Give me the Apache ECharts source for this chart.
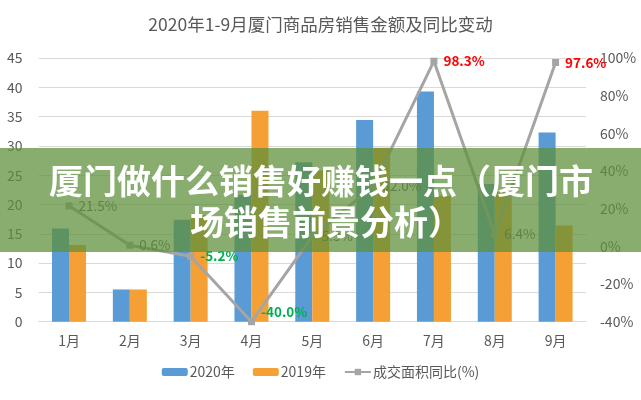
<!DOCTYPE html>
<html><head><meta charset="utf-8">
<script src="https://cdn.jsdelivr.net/npm/echarts@6/dist/echarts.min.js"></script>
<style>html,body{margin:0;padding:0;background:#fff}#c{width:641px;height:400px}</style>
</head><body><div id="c"></div>
<script>
// ---- data ----
const months = ['1月','2月','3月','4月','5月','6月','7月','8月','9月'];
const sales2020 = [15.9, 5.5, 17.4, 21.6, 27.2, 34.4, 39.3, 23.5, 32.3];
const sales2019 = [13.1, 5.5, 18.2, 36.0, 25.8, 29.7, 21.5, 22.1, 16.4];
const areaYoY = [21.5, 0.6, -5.2, -40.0, 5.3, 32.0, 98.3, 6.4, 97.6];
const leftTicks = [0, 5, 10, 15, 20, 25, 30, 35, 40, 45];
const rightTicks = [-40, -20, 0, 20, 40, 60, 80, 100];
const seriesNames = ['2020年', '2019年', '成交面积同比(%)'];
const titleText = '2020年1-9月厦门商品房销售金额及同比变动';
const bannerLines = ['厦门做什么销售好赚钱一点（厦门市', '场销售前景分析）'];

// ---- chart ----
const FONT = '"Noto Sans CJK SC", "Noto Sans", sans-serif';
const GRAY = '#595959';
const chart = echarts.init(document.getElementById('c'), null, {renderer: 'canvas'});

function labelStyleFor(v) {
  if (v < 0) return {color: '#00B050', fontWeight: 'bold'};
  if (v > 90) return {color: '#FF0000', fontWeight: 'bold'};
  return {color: GRAY, fontWeight: 'normal'};
}

const lineData = areaYoY.map(function (v) {
  const s = labelStyleFor(v);
  const lbl = {show: true, position: 'right', distance: 6, color: s.color, fontWeight: s.fontWeight,
    fontSize: 13.5, fontFamily: FONT, formatter: function (p) { return p.value.toFixed(1) + '%'; }};
  if (v === Math.min.apply(null, areaYoY)) lbl.offset = [0, -10];
  return {value: v, label: lbl};
});

const option = {
  animation: false,
  backgroundColor: '#fff',
  textStyle: {fontFamily: FONT},
  title: {
    text: titleText, left: 'center', top: 11,
    textStyle: {color: GRAY, fontSize: 17.5, fontWeight: 'normal', fontFamily: FONT}
  },
  legend: {
    bottom: 16, left: 'center', itemWidth: 26, itemHeight: 8, itemGap: 18,
    textStyle: {color: GRAY, fontSize: 14, fontFamily: FONT, padding: [0, 0, 0, -3]},
    data: seriesNames
  },
  grid: {left: 38.6, right: 55, top: 58, bottom: 78.3, containLabel: false},
  xAxis: {
    type: 'category', data: months,
    axisLine: {lineStyle: {color: '#D9D9D9'}}, axisTick: {show: false},
    axisLabel: {color: GRAY, fontSize: 14, margin: 12, fontFamily: FONT}
  },
  yAxis: [{
    type: 'value', min: leftTicks[0], max: leftTicks[leftTicks.length - 1], interval: leftTicks[1] - leftTicks[0],
    axisLine: {show: false}, axisTick: {show: false},
    splitLine: {lineStyle: {color: '#D9D9D9'}},
    axisLabel: {color: GRAY, fontSize: 14, margin: 16, fontFamily: FONT}
  }, {
    type: 'value', min: rightTicks[0], max: rightTicks[rightTicks.length - 1], interval: rightTicks[1] - rightTicks[0],
    axisLine: {show: false}, axisTick: {show: false}, splitLine: {show: false},
    axisLabel: {color: GRAY, fontSize: 14, margin: 14, fontFamily: FONT, formatter: '{value}%'}
  }],
  series: [{
    name: seriesNames[0], type: 'bar', data: sales2020, barWidth: 17, barGap: '0%',
    itemStyle: {color: '#5B9BD5'}
  }, {
    name: seriesNames[1], type: 'bar', data: sales2019, barWidth: 17, barGap: '0%',
    itemStyle: {color: '#F4A034'}
  }, {
    name: seriesNames[2], type: 'line', yAxisIndex: 1, data: lineData,
    symbol: 'rect', symbolSize: 7, showAllSymbol: true,
    lineStyle: {color: '#A5A5A5', width: 3}, itemStyle: {color: '#A5A5A5'}
  }],
  graphic: [{
    type: 'rect', left: 0, top: 148, z: 100,
    shape: {width: 641, height: 104},
    style: {fill: 'rgba(95,145,60,0.74)'}
  }, {
    type: 'text', z: 101, x: 321, y: 181,
    style: {text: bannerLines[0], fill: '#fff', fontSize: 34, fontWeight: 'bold', fontFamily: FONT,
      textAlign: 'center', textVerticalAlign: 'middle',
      shadowBlur: 4, shadowColor: 'rgba(0,0,0,0.45)', shadowOffsetX: 1, shadowOffsetY: 1}
  }, {
    type: 'text', z: 101, x: 326, y: 222,
    style: {text: bannerLines[1], fill: '#fff', fontSize: 34, fontWeight: 'bold', fontFamily: FONT,
      textAlign: 'center', textVerticalAlign: 'middle',
      shadowBlur: 4, shadowColor: 'rgba(0,0,0,0.45)', shadowOffsetX: 1, shadowOffsetY: 1}
  }]
};
chart.setOption(option);
</script>
</body></html>
